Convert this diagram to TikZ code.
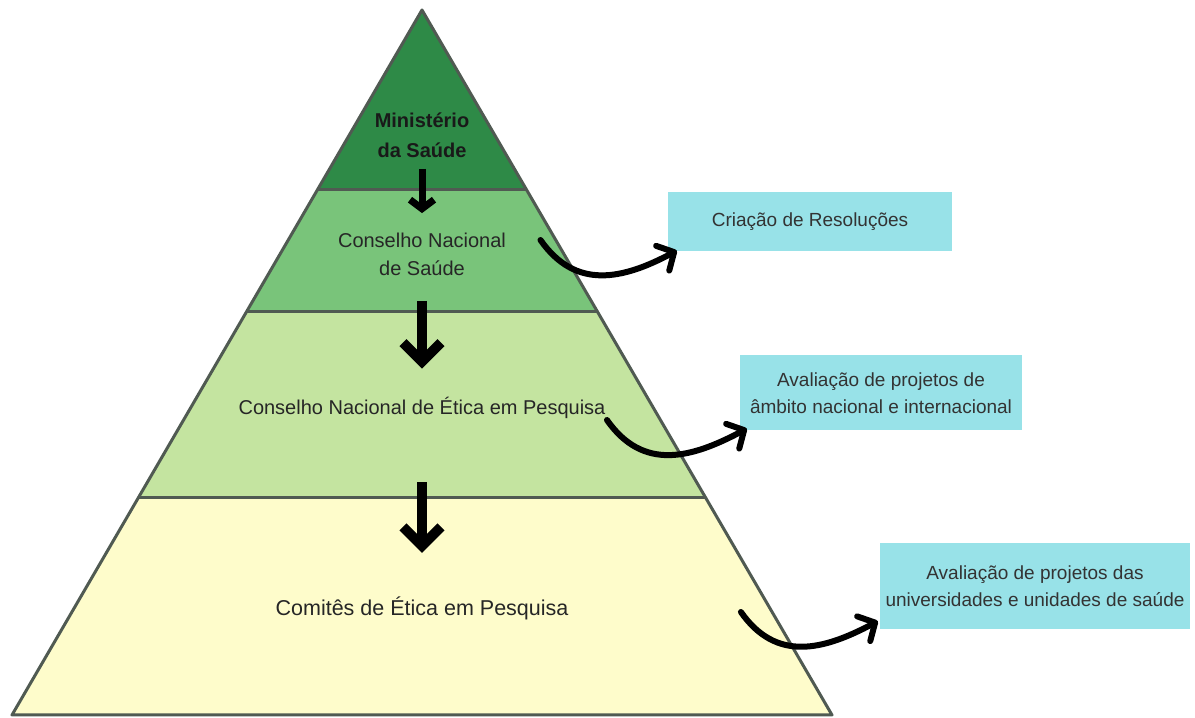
\documentclass[tikz,border=0pt]{standalone}
\usepackage{fontspec}
\setmainfont{Liberation Sans}
\usepackage{tikz}
\usetikzlibrary{arrows.meta,calc,positioning}
\definecolor{mingreen}{HTML}{2E8A47}
\definecolor{cnsgreen}{HTML}{79C47A}
\definecolor{conepgreen}{HTML}{C4E4A0}
\definecolor{cepyellow}{HTML}{FEFCCB}
\definecolor{notecyan}{HTML}{98E2E8}
\definecolor{edgegray}{HTML}{505A52}
\tikzset{
    level/.style = {align=center, text=black!85, font=\fontsize{20}{28}\selectfont},
    note/.style = {rectangle, fill=notecyan, align=center, text=black!80, font=\fontsize{19}{27}\selectfont},
    down/.style = {-{Straight Barb[length=9pt,width=24pt]}, line width=7pt},
    bigdown/.style = {-{Straight Barb[length=19pt,width=38pt]}, line width=10pt},
    curvy/.style = {-{Straight Barb[length=13pt,width=28pt,round]}, line width=6pt, line cap=round,
        out=-55, in=208, looseness=1.15}
}

\begin{document}
\begin{tikzpicture}[x=1pt,y=1pt]
    \useasboundingbox (0,0) rectangle (1195,718);
    \coordinate (apex) at (422,708);
    \coordinate (bl) at (12,3);
    \coordinate (br) at (832,3);
    \coordinate (l1) at ($(bl)!0.309!(apex)$);
    \coordinate (r1) at ($(br)!0.309!(apex)$);
    \coordinate (l2) at ($(bl)!0.572!(apex)$);
    \coordinate (r2) at ($(br)!0.572!(apex)$);
    \coordinate (l3) at ($(bl)!0.745!(apex)$);
    \coordinate (r3) at ($(br)!0.745!(apex)$);

    % the four levels
    \fill[cepyellow] (bl) -- (br) -- (r1) -- (l1) -- cycle;
    \fill[conepgreen] (l1) -- (r1) -- (r2) -- (l2) -- cycle;
    \fill[cnsgreen] (l2) -- (r2) -- (r3) -- (l3) -- cycle;
    \fill[mingreen] (l3) -- (r3) -- (apex) -- cycle;
    \draw[edgegray, line width=3pt, line join=round] (bl) -- (br) -- (apex) -- cycle;
    \draw[edgegray, line width=3pt] (l1) -- (r1) (l2) -- (r2) (l3) -- (r3);

    \node[level, font=\bfseries\fontsize{20}{30}\selectfont, text=black!90] (ms) at (422,583) {Ministério\\da Saúde};
    \node[level] (cns) at (422,464) {Conselho Nacional\\de Saúde};
    \node[level] (conep) at (422,310) {Conselho Nacional de Ética em Pesquisa};
    \node[level, font=\fontsize{21.5}{28}\selectfont] (cep) at (422,110) {Comitês de Ética em Pesquisa};

    \node[note, minimum width=284pt, minimum height=59pt] (res) at (810,496) {Criação de Resoluções};
    \node[note, minimum width=282pt, minimum height=75pt] (nac) at (881,325) {Avaliação de projetos de\\âmbito nacional e internacional};
    \node[note, minimum width=310pt, minimum height=86pt] (uni) at (1035,132) {Avaliação de projetos das\\universidades e unidades de saúde};

    \draw[down, shorten <=8pt, shorten >=16pt] (ms) -- (cns);
    \draw[bigdown, shorten <=22pt, shorten >=25pt] (cns) -- (conep);
    \draw[bigdown, shorten <=60pt, shorten >=40pt] (conep) -- (cep);

    \draw[curvy] ([shift={(31pt,14pt)}]cns.east) to ([shift={(9pt,1pt)}]res.south west);
    \draw[curvy] ([shift={(-2pt,-12pt)}]conep.east) to ([shift={(7pt,2pt)}]nac.south west);
    \draw[curvy] ([shift={(169pt,-4pt)}]cep.east) to ([shift={(-2pt,8pt)}]uni.south west);
\end{tikzpicture}
\end{document}
